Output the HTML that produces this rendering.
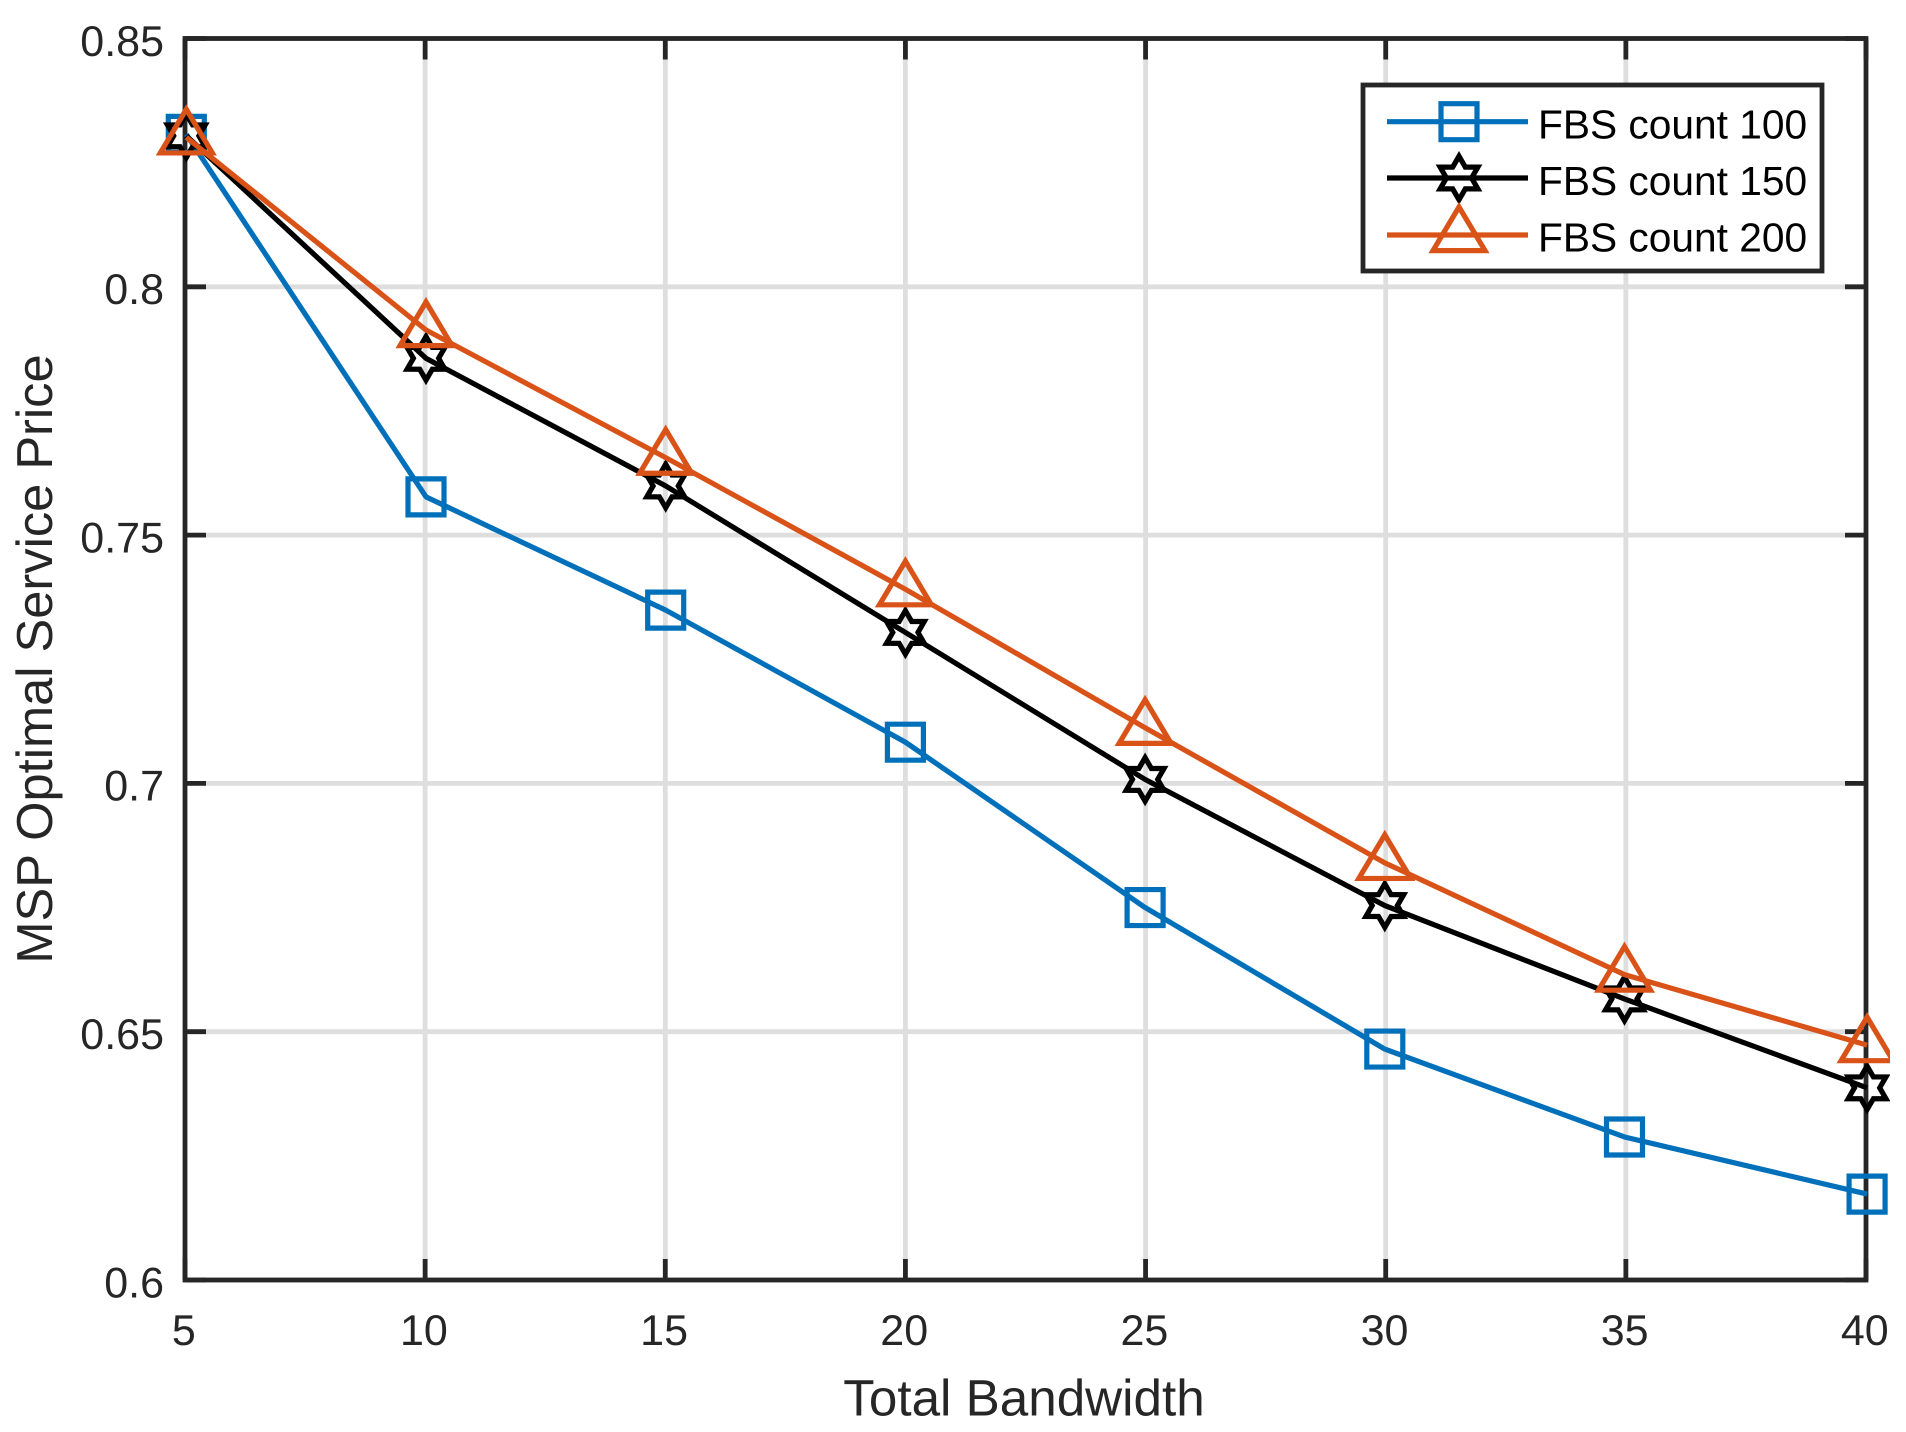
<!DOCTYPE html>
<html lang="en">
<head>
<meta charset="utf-8">
<title>MSP Optimal Service Price vs Total Bandwidth</title>
<style>
html,body{margin:0;padding:0;background:#fff;}
svg{display:block;font-family:"Liberation Sans",Arial,sans-serif;text-rendering:geometricPrecision;}
</style>
</head>
<body>
<svg id="chart" xmlns="http://www.w3.org/2000/svg" width="1906" height="1432" viewBox="0 0 1906 1432">
<defs><clipPath id="marker-clip"><rect x="0" y="0" width="1890" height="1432"></rect></clipPath></defs>
</svg>
<script>
const bandwidth = [5, 10, 15, 20, 25, 30, 35, 40.06];
const fbs100 = [0.8307, 0.7577, 0.7349, 0.7083, 0.6750, 0.6465, 0.6288, 0.6173];
const fbs150 = [0.8304, 0.7856, 0.7599, 0.7304, 0.7008, 0.6754, 0.6566, 0.6387];
const fbs200 = [0.8301, 0.7913, 0.7656, 0.7391, 0.7112, 0.6840, 0.6615, 0.6473];
const xTicks = [5, 10, 15, 20, 25, 30, 35, 40];
const yTicks = [0.6, 0.65, 0.7, 0.75, 0.8, 0.85];
const xTickLabels = ['5', '10', '15', '20', '25', '30', '35', '40'];
const yTickLabels = ['0.6', '0.65', '0.7', '0.75', '0.8', '0.85'];
const seriesNames = ['FBS count 100', 'FBS count 150', 'FBS count 200'];

const svg = document.getElementById('chart');
const NS = 'http://www.w3.org/2000/svg';
const L = 185, R = 1866, T = 38.5, B = 1280;
const INK = '#262626', GRID = '#dedede';
const SW = 4.8, LSW = 5.2, MSW = 5.2, TICK = 21;
const xScale = v => L + (v - 5) / (40 - 5) * (R - L);
const yScale = v => B - (v - 0.6) / (0.85 - 0.6) * (B - T);
const markX = v => 186.3 + (v - 5) * 47.94;

function make(tag, attrs, parent) {
  const n = document.createElementNS(NS, tag);
  for (const k in attrs) n.setAttribute(k, attrs[k]);
  (parent || svg).appendChild(n);
  return n;
}
function polyPoints(pts, cx, cy) {
  return pts.map(p => (cx + p[0]).toFixed(2) + ',' + (cy + p[1]).toFixed(2)).join(' ');
}
const SQUARE = [[-18,-18],[18,-18],[18,18],[-18,18]];
const TRIANGLE = [[0,-28],[26,15.6],[-26,15.6]];
const STAR = (function () {
  const out = [];
  for (let i = 0; i < 12; i++) {
    const rad = i % 2 === 0 ? 21.8 : 12.6;
    const a = -Math.PI / 2 + i * Math.PI / 6;
    out.push([rad * Math.cos(a), rad * Math.sin(a)]);
  }
  return out;
})();
const seriesStyles = [
  { color: '#0070bb', shape: SQUARE, key: 'fbs-100' },
  { color: '#000000', shape: STAR, key: 'fbs-150' },
  { color: '#d95319', shape: TRIANGLE, key: 'fbs-200' }
];
const seriesValues = [fbs100, fbs150, fbs200];

/* grid */
const gridGroup = make('g', { stroke: GRID, 'stroke-width': SW, fill: 'none' });


xTicks.slice(1, -1).forEach(v => {
  const ln = make('line', { x1: xScale(v), x2: xScale(v), y1: T, y2: B }, gridGroup);
  
  
});
yTicks.slice(1, -1).forEach(v => {
  const ln = make('line', { x1: L, x2: R, y1: yScale(v), y2: yScale(v) }, gridGroup);
  
  
});

/* ticks */
const tickGroup = make('g', { stroke: INK, 'stroke-width': SW, fill: 'none' });


xTicks.forEach(v => {
  const a = make('line', { x1: xScale(v), x2: xScale(v), y1: B, y2: B - TICK }, tickGroup);
  
  
  const b = make('line', { x1: xScale(v), x2: xScale(v), y1: T, y2: T + TICK }, tickGroup);
  
  
});
yTicks.forEach(v => {
  const a = make('line', { x1: L, x2: L + TICK, y1: yScale(v), y2: yScale(v) }, tickGroup);
  
  
  const b = make('line', { x1: R, x2: R - TICK, y1: yScale(v), y2: yScale(v) }, tickGroup);
  
  
});

/* axes box */
const axesBox = make('rect', { x: L, y: T, width: R - L, height: B - T, fill: 'none', stroke: INK, 'stroke-width': SW });



/* tick labels */
xTicks.forEach((v, i) => {
  const t = make('text', { x: xScale(v) - 1.2, y: 1345.2, 'text-anchor': 'middle', 'font-size': 43, fill: INK });
  t.textContent = xTickLabels[i];
  
  
});
yTicks.forEach((v, i) => {
  const t = make('text', { x: 164, y: yScale(v) + 17.3, 'text-anchor': 'end', 'font-size': 43, fill: INK });
  t.textContent = yTickLabels[i];
  
  
});

/* axis titles */
const xTitle = make('text', { x: 1024, y: 1415.5, 'text-anchor': 'middle', 'font-size': 51.2, fill: INK });
xTitle.textContent = 'Total Bandwidth';


const yTitle = make('text', { x: 0, y: 0, transform: 'translate(52,659) rotate(-90)', 'text-anchor': 'middle', 'font-size': 50.6, fill: INK });
yTitle.textContent = 'MSP Optimal Service Price';



/* series */
seriesValues.forEach((vals, s) => {
  const st = seriesStyles[s];
  const g = make('g', { fill: 'none', stroke: st.color, 'clip-path': 'url(#marker-clip)' });
  
  
  const line = make('polyline', {
    points: vals.map((v, i) => markX(bandwidth[i]).toFixed(2) + ',' + yScale(v).toFixed(2)).join(' '),
    'stroke-width': LSW, 'stroke-linejoin': 'round'
  }, g);
  
  
  vals.forEach((v, i) => {
    const m = make('polygon', {
      points: polyPoints(st.shape, markX(bandwidth[i]), yScale(v)),
      'stroke-width': MSW, 'stroke-linejoin': 'miter', 'stroke-miterlimit': 10
    }, g);
    
    
  });
});

/* legend */
const legend = make('g', {});


const legendBox = make('rect', { x: 1363, y: 85, width: 459, height: 186, fill: '#fff', stroke: INK, 'stroke-width': SW }, legend);


const legendRowY = [121.7, 178, 235];
const legendBaseY = [138.3, 195, 251.7];
seriesNames.forEach((name, s) => {
  const st = seriesStyles[s];
  const row = make('g', {}, legend);
  
  
  const ln = make('line', { x1: 1387, x2: 1528, y1: legendRowY[s], y2: legendRowY[s], stroke: st.color, 'stroke-width': LSW }, row);
  
  
  const mk = make('polygon', { points: polyPoints(st.shape, 1459, legendRowY[s]), fill: 'none', stroke: st.color, 'stroke-width': MSW, 'stroke-miterlimit': 10 }, row);
  
  
  const tx = make('text', { x: 1538, y: legendBaseY[s], 'font-size': 40.7, fill: '#000' }, row);
  tx.textContent = name;
  
  
});
</script>
</body>
</html>
